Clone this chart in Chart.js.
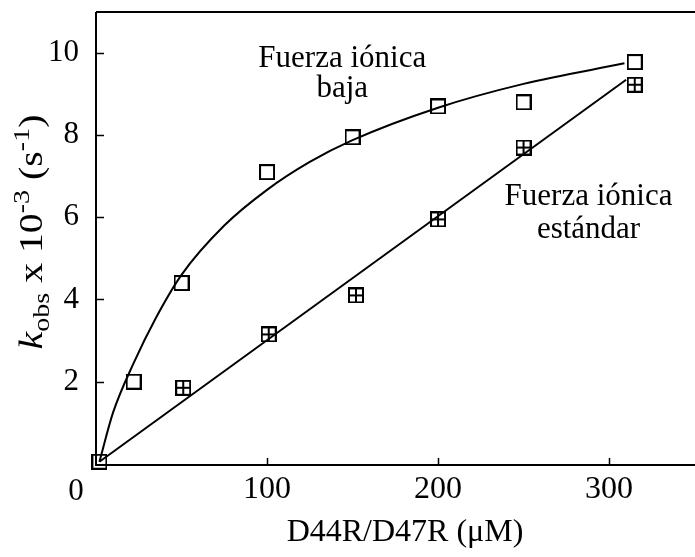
<!DOCTYPE html>
<html><head><meta charset="utf-8">
<script src="https://cdn.jsdelivr.net/npm/chart.js@4/dist/chart.umd.min.js"></script>
<style>html,body{margin:0;padding:0;background:#fff;overflow:hidden}#c{display:block}</style>
</head><body>
<canvas id="c" width="695" height="557"></canvas>
<script>
// ---- data ----
const concLow = [2, 22, 50, 100, 150, 200, 250, 315];
const kLow    = [0.05, 2.0, 4.4, 7.1, 7.95, 8.7, 8.8, 9.78];
const concStd = [2, 51, 101, 152, 200, 250, 315];
const kStd    = [0.05, 1.85, 3.15, 4.1, 5.95, 7.7, 9.23];
// fitted curves as traced in the picture
const fitLowX = [2, 10, 22, 35, 50, 75, 100, 125, 150, 200, 250, 309];
const fitLowY = [0.05, 1.25, 2.45, 3.55, 4.6, 5.8, 6.67, 7.35, 7.88, 8.67, 9.25, 9.75];
const fitStdX = [2, 310];
const fitStdY = [0.05, 9.35];
const xTicks = [100, 200, 300];
const yTicks = [2, 4, 6, 8, 10];
const labelLow = ["Fuerza iónica", "baja"];
const labelStd = ["Fuerza iónica", "estándar"];
const xTitle = "D44R/D47R (\u03bcM)";

const FONT = '"Liberation Serif", "Times New Roman", serif';
const pts = (xs, ys) => xs.map((x, i) => ({x: x, y: ys[i]}));

function makeMarker(crossed) {
  const c = document.createElement('canvas');
  c.width = 16; c.height = 16;
  const g = c.getContext('2d');
  g.fillStyle = '#fff'; g.fillRect(0, 0, 16, 16);
  g.strokeStyle = '#000'; g.lineWidth = 2;
  g.strokeRect(1, 1, 14, 14);
  if (crossed) { g.fillStyle = '#000'; g.fillRect(7, 1, 2, 14); g.fillRect(1, 7, 14, 2); }
  return c;
}
const openSq = makeMarker(false), crossSq = makeMarker(true);

const decor = {
  id: 'decor',
  afterDraw(chart) {
    const ctx = chart.ctx, a = chart.chartArea, xs = chart.scales.x, ys = chart.scales.y;
    ctx.save();
    ctx.strokeStyle = '#000'; ctx.lineWidth = 2;
    ctx.beginPath();
    ctx.moveTo(a.left, a.top); ctx.lineTo(695, a.top);
    ctx.moveTo(a.left, a.top); ctx.lineTo(a.left, a.bottom);
    ctx.moveTo(a.left - 1, a.bottom); ctx.lineTo(695, a.bottom);
    ctx.stroke();
    ctx.lineWidth = 1.5;
    ctx.beginPath();
    xTicks.forEach(v => { const p = Math.round(xs.getPixelForValue(v)) + 0.5; ctx.moveTo(p, a.bottom); ctx.lineTo(p, a.bottom - 7); });
    yTicks.forEach(v => { const p = Math.round(ys.getPixelForValue(v)) + 0.5; ctx.moveTo(a.left, p); ctx.lineTo(a.left + 8, p); });
    ctx.stroke();
    ctx.fillStyle = '#000';
    ctx.font = '31px ' + FONT;
    ctx.textAlign = 'center'; ctx.textBaseline = 'middle';
    ctx.fillText('0', a.left - 20, a.bottom + 27);
    ctx.textBaseline = 'alphabetic';
    ctx.font = '31px ' + FONT;
    ctx.fillText(labelLow[0], xs.getPixelForValue(144), ys.getPixelForValue(9.66));
    ctx.fillText(labelLow[1], xs.getPixelForValue(144), ys.getPixelForValue(8.93));
    ctx.fillText(labelStd[0], xs.getPixelForValue(288), ys.getPixelForValue(6.30));
    ctx.fillText(labelStd[1], xs.getPixelForValue(288), ys.getPixelForValue(5.50));
    // x title
    ctx.font = '32px ' + FONT;
    ctx.fillText(xTitle, 405, 541);
    // y title (rich text, rotated)
    const segs = [
      {t: 'k', f: 'italic 34px ' + FONT, dy: 0},
      {t: 'obs', f: '24px ' + FONT, dy: 7},
      {t: ' x 10', f: '34px ' + FONT, dy: 0},
      {t: '-3', f: '24px ' + FONT, dy: -13},
      {t: ' (s', f: '34px ' + FONT, dy: 0},
      {t: '-1', f: '24px ' + FONT, dy: -13},
      {t: ')', f: '34px ' + FONT, dy: 0}
    ];
    let total = 0;
    segs.forEach(s => { ctx.font = s.f; s.w = ctx.measureText(s.t).width; total += s.w; });
    ctx.translate(42, 232); ctx.rotate(-Math.PI / 2); ctx.scale(1.17, 1);
    ctx.textAlign = 'left';
    let u = -total / 2;
    segs.forEach(s => { ctx.font = s.f; ctx.fillText(s.t, u, s.dy); u += s.w; });
    ctx.restore();
  }
};

new Chart(document.getElementById('c'), {
  type: 'scatter',
  data: {
    datasets: [
      {data: pts(fitLowX, fitLowY), showLine: true, borderColor: '#000', borderWidth: 2, pointRadius: 0, cubicInterpolationMode: 'monotone', fill: false},
      {data: pts(fitStdX, fitStdY), showLine: true, borderColor: '#000', borderWidth: 2, pointRadius: 0, fill: false},
      {data: pts(concLow, kLow), pointStyle: openSq, pointRadius: 8, clip: false},
      {data: pts(concStd, kStd), pointStyle: crossSq, pointRadius: 8, clip: false}
    ]
  },
  options: {
    responsive: false, animation: false, devicePixelRatio: 1,
    layout: {padding: {top: 12, right: 0, left: 0, bottom: 0}},
    plugins: {legend: {display: false}, tooltip: {enabled: false}},
    scales: {
      x: {
        type: 'linear', min: 0, max: 345,
        grid: {display: false, drawTicks: false}, border: {display: false},
        ticks: {color: '#000', font: {family: FONT, size: 32}, padding: 5, maxRotation: 0},
        afterBuildTicks: s => { s.ticks = xTicks.map(v => ({value: v})); },
        afterFit: s => { s.height = 92; s.paddingLeft = 0; s.paddingRight = 0; }
      },
      y: {
        type: 'linear', min: -0.03, max: 11,
        grid: {display: false, drawTicks: false}, border: {display: false},
        ticks: {color: '#000', font: {family: FONT, size: 31}, padding: 17},
        afterBuildTicks: s => { s.ticks = yTicks.map(v => ({value: v})); },
        afterFit: s => { s.width = 96; s.paddingTop = 0; s.paddingBottom = 0; }
      }
    }
  },
  plugins: [decor]
});
</script>
</body></html>
